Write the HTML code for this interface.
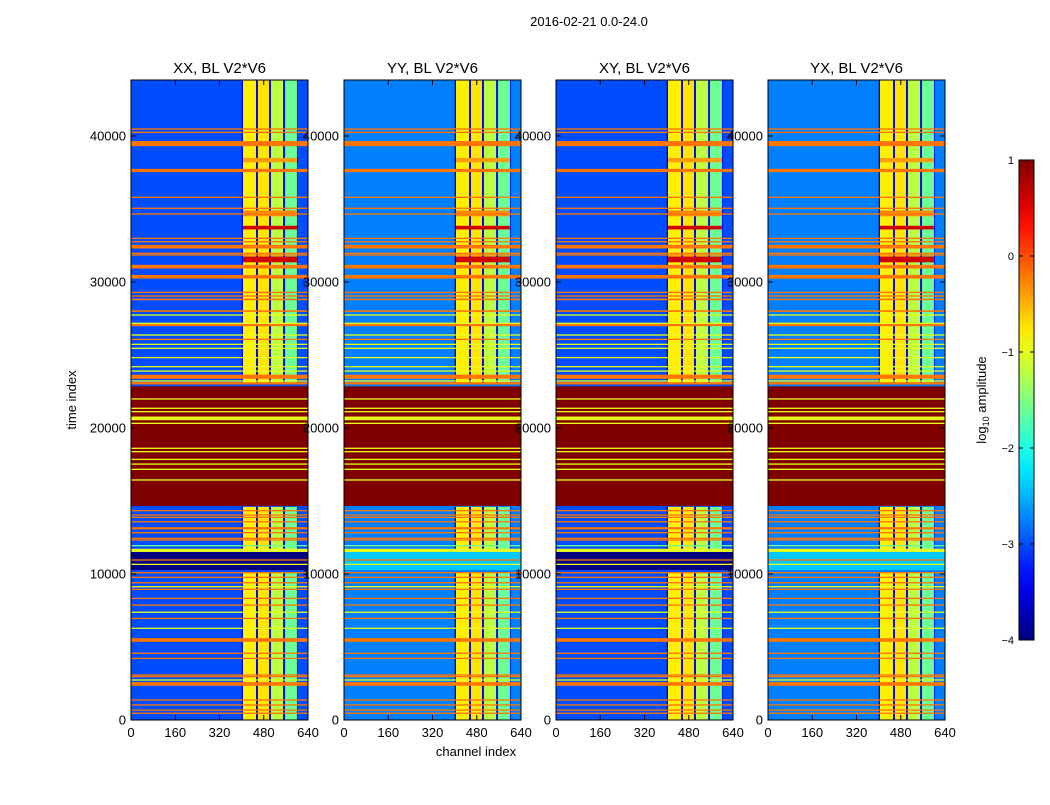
<!DOCTYPE html>
<html><head><meta charset="utf-8"><style>
body{margin:0;background:#fff;}
svg text{font-family:"Liberation Sans",sans-serif;}
</style></head>
<body>
<svg id="fig" width="1050" height="800" xmlns="http://www.w3.org/2000/svg">
<rect width="1050" height="800" fill="#fff"/>
<text x="589" y="26" font-size="13" text-anchor="middle">2016-02-21 0.0-24.0</text>
<text x="476" y="756" font-size="13" text-anchor="middle">channel index</text>
<text x="76" y="400" font-size="13" text-anchor="middle" transform="rotate(-90 76 400)">time index</text>
<g id="panels"></g>
<g id="cbar"></g>
</svg>
<script>
// ---- data ----
const panelTitles = ["XX, BL V2*V6","YY, BL V2*V6","XY, BL V2*V6","YX, BL V2*V6"];
const panelBackground = [-3.0,-2.75,-3.0,-2.75];
const panelNavyBand = [true,false,true,false];
const xTicks = [0,160,320,480,640];
const yTicks = [0,10000,20000,30000,40000];
const cbarTicks = [1,0,-1,-2,-3,-4];
// channel blocks: start, end, value
const chanStart = [405,459,506,557];
const chanEnd = [452,499,550,600];
const chanValue = [-0.8,-0.75,-1.2,-1.6];
// time segments where channel blocks active
const segStart = [0,11300,23000];
const segEnd = [10100,14600,43800];
// hot spots (rows across the active channels)
const hotStart = [33600,31350,34500,38200];
const hotEnd = [33850,31750,34900,38500];
const hotValue = [0.6,0.6,-0.3,-0.4];
// saturated block
const blockStart = [14660];
const blockEnd = [22850];
const blockValue = [1];
// navy band
const navyStart = 10270, navyEnd = 11530;
// horizontal RFI lines: time, value, thickness(time units)
const lineTime = [40480,40250,39480,37640,35800,35050,34660,32990,32760,32420,31960,31850,31050,30360,29290,29040,28810,28010,27050,26070,23510,23060,
 27740,27170,26370,25730,25460,24820,24200,23900,23220,
 21990,21350,21120,20660,20320,18610,18380,17850,17530,17170,16440,
 14340,14040,13880,13580,13130,12830,12440,12330,11940,11620,10960,10660,
 10090,9770,9400,8950,8330,7870,6960,5480,4570,4220,3080,2970,2470,1370,1030,680,460,
 9130,7380,6280,2740];
const lineValue = [-0.2,-0.2,-0.2,-0.2,-0.2,-0.2,-0.2,-0.2,-0.2,-0.2,-0.2,-0.2,-0.2,-0.2,-0.2,-0.2,-0.2,-0.2,-0.2,-0.2,-0.2,-0.2,
 -1,-1,-1,-1,-1,-1,-1,-1,-1,
 -1,-1,-1,-1,-1,-1,-1,-1,-1,-1,-1,
 -0.2,-0.2,-0.2,-0.2,-0.2,-0.2,-0.2,-0.2,-1.6,-1,-0.2,-1,
 -0.2,-0.2,-0.2,-0.2,-0.2,-0.2,-0.2,-0.2,-0.2,-0.2,-0.2,-0.2,-0.2,-0.2,-0.2,-0.2,-0.2,
 -1,-1,-1,-1];
const lineThick = [90,90,350,220,90,90,90,90,90,250,90,90,250,250,90,90,110,110,150,90,280,160,
 90,90,90,90,90,90,90,90,90,
 90,90,90,250,90,90,90,90,90,90,90,
 90,90,90,90,150,90,90,90,90,220,90,90,
 90,90,90,90,90,90,90,250,90,90,90,90,250,90,90,90,90,
 90,90,90,90];

// ---- scales ----
const panelLeft = [131,344,556,768], PW = 177, PT = 80, PB = 720;
const xMax = 640, tMax = 43836;
function xs(i,c){return panelLeft[i] + c/xMax*PW;}
function ys(t){return PB - t/tMax*(PB-PT);}
function jet(v){
  const t = Math.max(0,Math.min(1,(v+4)/5));
  const cl = x=>Math.max(0,Math.min(1,x));
  const r=cl(1.5-Math.abs(4*t-3)), g=cl(1.5-Math.abs(4*t-2)), b=cl(1.5-Math.abs(4*t-1));
  return `rgb(${Math.round(r*255)},${Math.round(g*255)},${Math.round(b*255)})`;
}
const NS="http://www.w3.org/2000/svg";
function mk(parent,tag,attrs){const e=document.createElementNS(NS,tag);for(const k in attrs)e.setAttribute(k,attrs[k]);parent.appendChild(e);return e;}
function rectT(g,i,c0,c1,t0,t1,v,name){
  const r=mk(g,'rect',{x:xs(i,c0),y:ys(t1),width:xs(i,c1)-xs(i,c0),height:Math.max(1,ys(t0)-ys(t1)),fill:jet(v)});
  
  
  return r;
}
const panels=document.getElementById('panels');
for(let i=0;i<4;i++){
  const g=mk(panels,'g',{});
  
  
  rectT(g,i,0,xMax,0,tMax,panelBackground[i],'background');
  for(let s=0;s<segStart.length;s++){
    rectT(g,i,chanStart[0]-5,chanEnd[chanEnd.length-1]+3,segStart[s],segEnd[s],-3.4,'channel-gap');
    for(let c=0;c<chanStart.length;c++) rectT(g,i,chanStart[c],chanEnd[c],segStart[s],segEnd[s],chanValue[c],'channel-block');
  }
  for(let h=0;h<hotStart.length;h++) rectT(g,i,chanStart[0],chanEnd[chanEnd.length-1],hotStart[h],hotEnd[h],hotValue[h],'hot-spot');
  if(panelNavyBand[i]) rectT(g,i,0,xMax,navyStart,navyEnd,-4,'navy-band');
  else rectT(g,i,0,xMax,navyStart,navyEnd,-2.4,'noisy-band');
  for(let b=0;b<blockStart.length;b++) rectT(g,i,0,xMax,blockStart[b],blockEnd[b],blockValue[b],'saturated-block');
  for(let l=0;l<lineTime.length;l++) rectT(g,i,0,xMax,lineTime[l]-lineThick[l]/2,lineTime[l]+lineThick[l]/2,lineValue[l],'rfi-line');
  const fr=mk(g,'rect',{x:panelLeft[i],y:PT,width:PW,height:PB-PT,fill:'none',stroke:'#000','stroke-width':1});
  
  
  const tt=mk(g,'text',{x:panelLeft[i]+PW/2,y:PT-7,'font-size':15,'text-anchor':'middle'});
  tt.textContent=panelTitles[i];
  
  
  xTicks.forEach(v=>{
    const x=xs(i,v);
    mk(g,'line',{x1:x,x2:x,y1:PB,y2:PB-5,stroke:'#000'});
    mk(g,'line',{x1:x,x2:x,y1:PT,y2:PT+5,stroke:'#000'});
    const t=mk(g,'text',{x:x,y:PB+17,'font-size':13,'text-anchor':'middle'});
    t.textContent=v;
    
    
  });
  yTicks.forEach(v=>{
    const y=ys(v);
    mk(g,'line',{x1:panelLeft[i],x2:panelLeft[i]+5,y1:y,y2:y,stroke:'#000'});
    mk(g,'line',{x1:panelLeft[i]+PW,x2:panelLeft[i]+PW-5,y1:y,y2:y,stroke:'#000'});
    const t=mk(g,'text',{x:panelLeft[i]-5,y:y+4.5,'font-size':13,'text-anchor':'end'});
    t.textContent=v;
    
    
  });
}
// colorbar
const cb=document.getElementById('cbar');
const CX=1019,CW=15,CT=160,CB=640;
const defs=mk(cb,'defs',{});
const lg=mk(defs,'linearGradient',{id:'jetg',x1:0,y1:1,x2:0,y2:0});
for(let k=0;k<=20;k++){mk(lg,'stop',{offset:k/20,'stop-color':jet(-4+5*k/20)});}
mk(cb,'rect',{x:CX,y:CT,width:CW,height:CB-CT,fill:'url(#jetg)',stroke:'#000'});
function cy(v){return CB-(v+4)/5*(CB-CT);}
cbarTicks.forEach(v=>{
  const y=cy(v);
  mk(cb,'line',{x1:CX,x2:CX+4,y1:y,y2:y,stroke:'#000'});
  mk(cb,'line',{x1:CX+CW,x2:CX+CW-4,y1:y,y2:y,stroke:'#000'});
  const t=mk(cb,'text',{x:CX-5,y:y+4,'font-size':11,'text-anchor':'end'});
  t.textContent=(v<0?'\u2212'+(-v):v);
  
  
});
const cl=mk(cb,'text',{x:986,y:400,'font-size':13,'text-anchor':'middle',transform:'rotate(-90 986 400)'});
cl.innerHTML='log<tspan font-size="9" dy="3">10</tspan><tspan dy="-3"> amplitude</tspan>';


</script>
</body></html>
